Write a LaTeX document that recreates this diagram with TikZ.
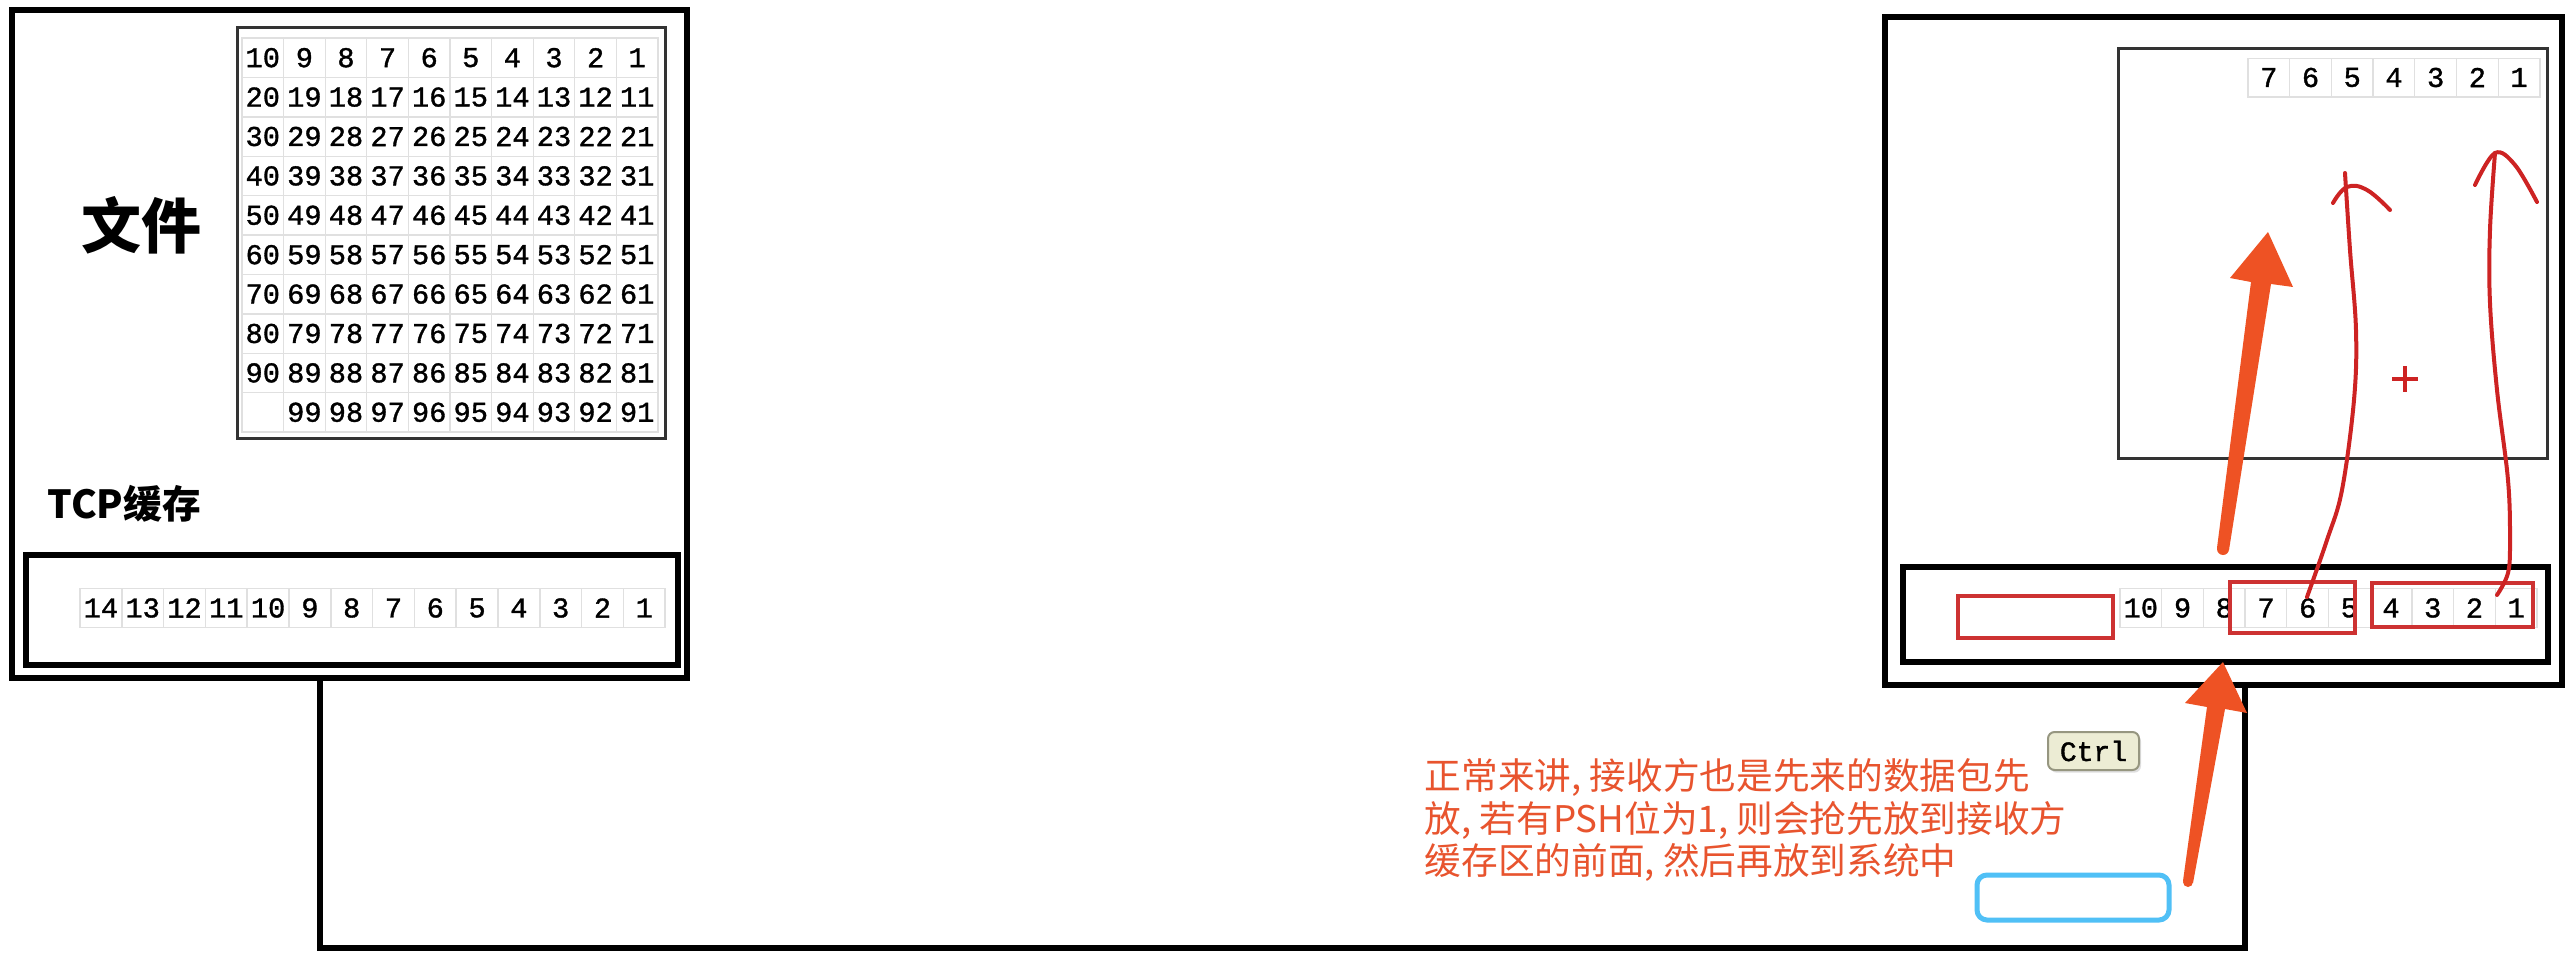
\documentclass[tikz,border=0pt]{standalone}
\usepackage{fontspec}
\newfontfamily\cjk{Noto Sans CJK SC}
\newfontfamily\cellfont[FakeBold=1.2]{Liberation Mono}
\newfontfamily\keyfont[FakeBold=1.5]{Liberation Mono}
\usetikzlibrary{shadows}
\definecolor{arroworange}{RGB}{238,82,36}
\definecolor{penred}{RGB}{205,35,35}
\definecolor{boxred}{RGB}{205,50,50}
\definecolor{notecol}{RGB}{232,84,46}
\definecolor{markblue}{RGB}{80,192,246}
\definecolor{keyfill}{RGB}{236,236,212}
\definecolor{keydraw}{RGB}{150,150,128}
\begin{document}
\begin{tikzpicture}[x=0.3pt,y=-0.3pt,
  thickbox/.style={draw=black, line width=1.8pt, inner sep=0pt},
  framebox/.style={draw=black!80, line width=0.9pt, inner sep=0pt},
  redbox/.style={draw=boxred, line width=1.2pt, inner sep=0pt},
  cell/.style={draw=black!12, fill=white, inner sep=0pt, font=\cellfont\fontsize{8.6}{9}\selectfont},
  gcell/.style={cell, minimum width=12.48pt, minimum height=11.8pt},
  bcell/.style={cell, minimum width=12.5pt, minimum height=11.6pt},
  conn/.style={draw=black, line width=2pt},
  pen/.style={draw=penred, line width=1.2pt, line cap=round, line join=round},
  notetext/.style={text=notecol, inner sep=0pt, font=\cjk\fontsize{11}{13}\selectfont}
]
\useasboundingbox (0,0) rectangle (2572,966);
\fill[white] (0,0) rectangle (2572,966);

% ---------- sender ----------
\node[thickbox, minimum width=202.5pt, minimum height=200.4pt] (sender) at (349.5,344) {};
\node[framebox, minimum width=128.4pt, minimum height=123.3pt] (grid) at (451,232.5) {};
\foreach \r in {0,...,9}{
  \foreach \c in {0,...,9}{
    \pgfmathtruncatemacro{\v}{10*\r+10-\c}
    \ifnum\v=100 \gdef\lbl{}\else\xdef\lbl{\v}\fi
    \node[gcell] (g-\r-\c) at ({242+41.6*(\c+0.5)},{38+39.4*(\r+0.5)}) {\lbl};
  }
}
\node[font=\cjk\bfseries\fontsize{18}{20}\selectfont, inner sep=0pt] (file) at (141,225) {文件};
\node[font=\cjk\bfseries\fontsize{11.6}{13}\selectfont, inner sep=0pt, anchor=west] (tcp) at (47,504) {TCP缓存};
\node[thickbox, minimum width=195.6pt, minimum height=33pt] (sbuf) at (352,610) {};
\foreach \c in {0,...,13}{
  \pgfmathtruncatemacro{\v}{14-\c}
  \node[bcell] (s-\c) at ({80+41.8*(\c+0.5)},608) {\v};
}

% ---------- receiver ----------
\node[thickbox, minimum width=203.1pt, minimum height=200.4pt] (receiver) at (2223.5,351) {};
\node[framebox, minimum width=128.7pt, minimum height=123pt] (window) at (2332.5,253) {};
\foreach \c in {0,...,6}{
  \pgfmathtruncatemacro{\v}{7-\c}
  \node[bcell] (w-\c) at ({2248+41.7*(\c+0.5)},77.5) {\v};
}
\node[thickbox, minimum width=193.5pt, minimum height=28.5pt] (rbuf) at (2225.5,614.5) {};
\foreach \c in {0,...,9}{
  \pgfmathtruncatemacro{\v}{10-\c}
  \node[bcell] (r-\c) at ({2120+41.7*(\c+0.5)},608) {\v};
}
\node[redbox, minimum width=46.5pt, minimum height=12.6pt] (empty) at (2035.5,617) {};
\node[redbox, minimum width=37.5pt, minimum height=15.3pt] (red765) at (2292.5,607.5) {};
\node[redbox, minimum width=48.3pt, minimum height=13.2pt] (red4321) at (2452.5,605) {};

% ---------- connector ----------
\coordinate (jL) at (320,0);
\coordinate (jR) at (2245,948);
\draw[conn] (sender.south -| jL) |- (jR) -- (receiver.south -| jR);

% ---------- hand-drawn red strokes ----------
\draw[pen] plot[smooth, tension=0.6] coordinates {(2307,597) (2327,540) (2342,490) (2354,400) (2356,330) (2350,250) (2345,173)};
\draw[pen] plot[smooth, tension=0.7] coordinates {(2333,203) (2347,187) (2367,190) (2390,210)};
\draw[pen] plot[smooth, tension=0.6] coordinates {(2497,595) (2508,573) (2510,540) (2508,480) (2497,390) (2490,303) (2490,230) (2495,153)};
\draw[pen] plot[smooth, tension=0.6] coordinates {(2475,185) (2495,153) (2515,165) (2537,202)};
\draw[draw=penred, line width=1.1pt] (2392,379) -- (2418,379) (2405,366) -- (2405,392);

% ---------- orange arrows ----------
\fill[arroworange] (2217,548) -- (2251,282) -- (2230,278) -- (2268,232) -- (2293,287) -- (2271,284) -- (2229,550) -- cycle;
\fill[arroworange] (2223,549) circle[radius=1.8pt];
\fill[arroworange] (2183,881) -- (2207,707) -- (2185,703) -- (2223,662) -- (2247,713) -- (2225,709) -- (2193,883) -- cycle;
\fill[arroworange] (2188,882) circle[radius=1.5pt];

% ---------- note ----------
\node[notetext, anchor=base west] (note1) at (1424,789) {正常来讲, 接收方也是先来的数据包先};
\node[notetext, anchor=base west] (note2) at (1424,832) {放, 若有PSH位为1, 则会抢先放到接收方};
\node[notetext, anchor=base west] (note3) at (1424,874) {缓存区的前面, 然后再放到系统中};

\node[draw=keydraw, fill=keyfill, rounded corners=2pt, line width=0.6pt, drop shadow={opacity=0.25, shadow xshift=0.6pt, shadow yshift=-0.8pt},
      minimum width=27.3pt, minimum height=11.4pt, inner sep=0pt,
      font=\keyfont\fontsize{8.4}{9}\selectfont] (ctrl) at (2093.5,751) {Ctrl};
\node[draw=markblue, line width=1.5pt, rounded corners=3pt, minimum width=57.6pt, minimum height=13.5pt, inner sep=0pt] (blue) at (2073,897.5) {};
\end{tikzpicture}
\end{document}
